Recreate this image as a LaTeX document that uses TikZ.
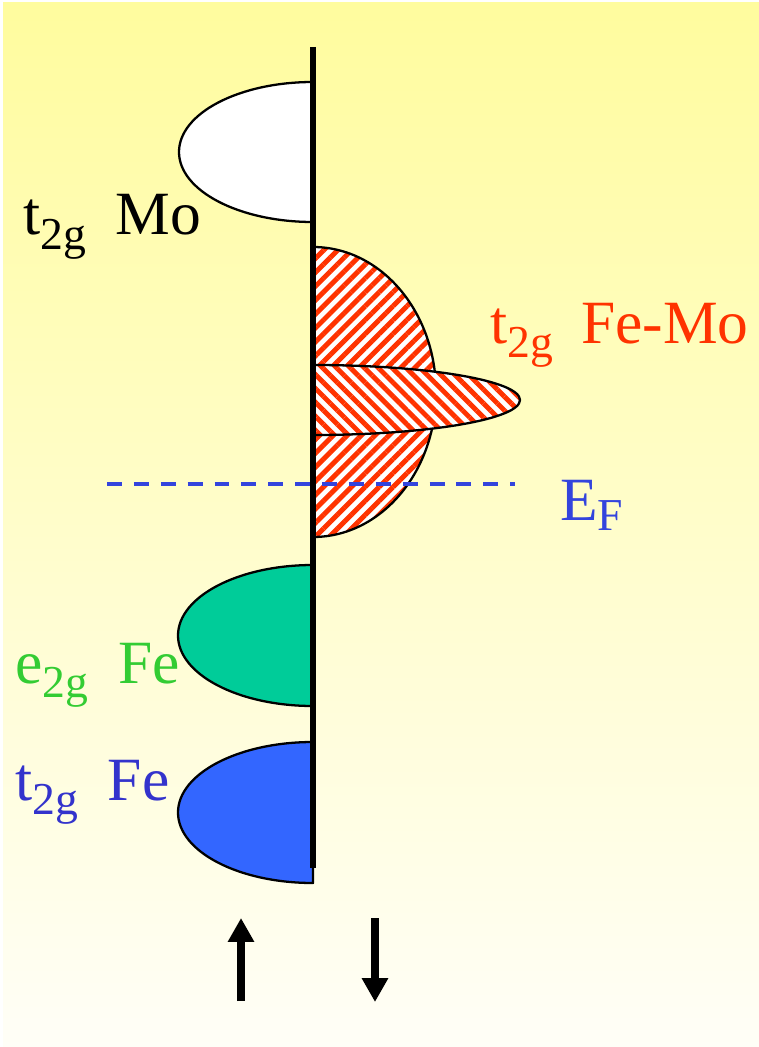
\documentclass[tikz,border=0pt]{standalone}
\usepackage{fontspec}
\setmainfont{Liberation Serif}
\usetikzlibrary{arrows.meta,patterns.meta}

\definecolor{bgtop}{RGB}{255,252,158}
\definecolor{bgbot}{RGB}{255,254,247}
\definecolor{hatchred}{RGB}{255,51,0}
\definecolor{egfill}{RGB}{0,204,153}
\definecolor{tgfill}{RGB}{51,102,255}
\definecolor{eggreen}{RGB}{51,204,51}
\definecolor{tgblue}{RGB}{51,51,204}
\definecolor{fermiblue}{RGB}{51,68,221}
\newcommand{\lowsub}[2][8.5pt]{\raisebox{-#1}{\fontsize{26}{26}\selectfont #2}}

\begin{document}
\begin{tikzpicture}[x=0.02cm, y=-0.02cm, line join=round,
    band/.style={draw=black, line width=1.3pt},
    hatched/.style={preaction={fill=white}, pattern={Lines[angle=#1,distance=5.6pt,line width=2.8pt]}, pattern color=hatchred},
    bandlabel/.style={anchor=base west, inner sep=0pt, font=\fontsize{35}{40}\selectfont},
    spin/.style={line width=4.5pt, -{Triangle[length=13.6pt,width=14.2pt]}}]
  % background
  \fill[white] (0,0) rectangle (759,1047);
  \shade[top color=bgtop, bottom color=bgbot] (3,3) rectangle (759,1047);
  \useasboundingbox (0,0) rectangle (759,1047);
  % t2g Mo (empty)
  \draw[band, fill=white] (313,82) arc[start angle=270, end angle=90, x radius=134, y radius=70] -- cycle;
  % t2g Fe-Mo, broad part and narrow peak
  \draw[band, hatched=45] (313,247) arc[start angle=-90, end angle=90, x radius=123, y radius=145] -- cycle;
  \draw[band, hatched=-45] (313,365) arc[start angle=-90, end angle=90, x radius=207, y radius=35] -- cycle;
  % e2g Fe and t2g Fe
  \draw[band, fill=egfill] (313,565) arc[start angle=270, end angle=90, x radius=135, y radius=70.5] -- cycle;
  \draw[band, fill=tgfill] (313,742) arc[start angle=270, end angle=90, x radius=135, y radius=70.5] -- cycle;
  % energy axis
  \draw[line width=3.2pt] (313,47) -- (313,868);
  % Fermi level
  \draw[fermiblue, line width=2.4pt, dash pattern=on 8.5pt off 6.8pt] (107,484) -- (515,484);
  % labels
  \node[bandlabel] (mo) at (23,235) {t\lowsub{2g}\hspace{17pt}Mo};
  \node[bandlabel, text=hatchred] (femo) at (490,343) {t\lowsub{2g}\hspace{16pt}Fe-Mo};
  \node[bandlabel, text=fermiblue] (ef) at (560,520) {E\lowsub[5.7pt]{F}};
  \node[bandlabel, text=eggreen] (eg) at (15,683) {e\lowsub{2g}\hspace{17pt}Fe};
  \node[bandlabel, text=tgblue] (tg) at (15,800) {t\lowsub{2g}\hspace{17pt}Fe};
  % spin up / spin down
  \coordinate (upfoot) at (241,1001);
  \coordinate (uptip) at (241,918);
  \coordinate (downfoot) at (375,918);
  \coordinate (downtip) at (375,1002);
  \draw[spin] (upfoot) -- (uptip);
  \draw[spin] (downfoot) -- (downtip);
\end{tikzpicture}
\end{document}
